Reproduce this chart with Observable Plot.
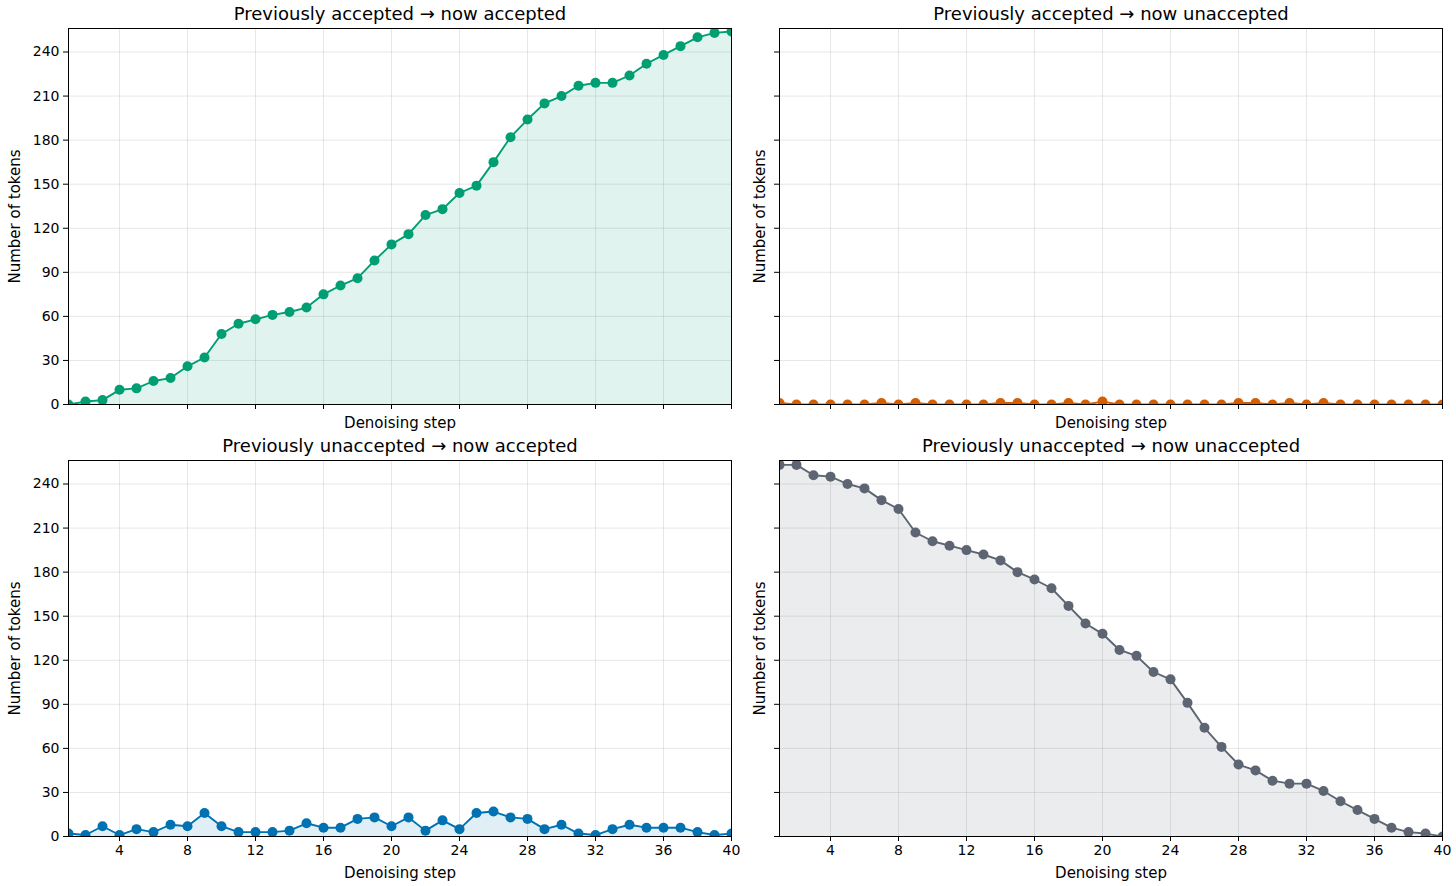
<!DOCTYPE html>
<html>
<head>
<meta charset="utf-8">
<script src="https://cdn.jsdelivr.net/npm/d3@7"></script>
<script src="https://cdn.jsdelivr.net/npm/@observablehq/plot@0.6"></script>
<style>
  html, body { margin: 0; padding: 0; background: #fff; }
  #wrap { position: relative; width: 1456px; height: 886px; font-family: "DejaVu Sans", sans-serif; }
  #wrap > svg { position: absolute; }
</style>
</head>
<body>
<div id="wrap"></div>
<script>
const steps = d3.range(1, 41);
const accAcc = [0,2,3,10,11,16,18,26,32,48,55,58,61,63,66,75,81,86,98,109,116,129,133,144,149,165,182,194,205,210,217,219,219,224,232,238,244,250,253,254];
const accUnacc = [1,0,0,0,0,0,1,0,1,0,0,0,0,1,1,0,0,1,0,2,0,0,0,0,0,0,0,1,1,0,1,0,1,0,0,0,0,0,0,0];
const unaccAcc = [2,1,7,1,5,3,8,7,16,7,3,3,3,4,9,6,6,12,13,7,13,4,11,5,16,17,13,12,5,8,2,1,5,8,6,6,6,3,1,2];
const unaccUnacc = [253,253,246,245,240,237,229,223,207,201,198,195,192,188,180,175,169,157,145,138,127,123,112,107,91,74,61,49,45,38,36,36,31,24,18,12,6,3,2,0];

const titles = ["Previously accepted \u2192 now accepted", "Previously accepted \u2192 now unaccepted",
                "Previously unaccepted \u2192 now accepted", "Previously unaccepted \u2192 now unaccepted"];
const colors = ["#009E73", "#D55E00", "#0072B2", "#5d6472"];
const xTicks = [4, 8, 12, 16, 20, 24, 28, 32, 36, 40];
const yTicks = [0, 30, 60, 90, 120, 150, 180, 210, 240];
const series = [accAcc, accUnacc, unaccAcc, unaccUnacc];

const wrap = document.getElementById("wrap");
const panels = [
  {left: 0, top: 0, row: 0, col: 0},
  {left: 711, top: 0, row: 0, col: 1},
  {left: 0, top: 432, row: 1, col: 0},
  {left: 711, top: 432, row: 1, col: 1}
];

panels.forEach((p, i) => {
  const data = steps.map((s, j) => ({step: s, n: series[i][j]}));
  const showX = p.row === 1;
  const showY = p.col === 0;
  const chart = Plot.plot({
    width: 740,
    height: 454,
    marginLeft: 68,
    marginRight: 9,
    marginTop: 28,
    marginBottom: 50,
    style: {fontFamily: "DejaVu Sans, sans-serif", fontSize: "14px", color: "#000", background: "transparent", overflow: "visible"},
    x: {domain: [1, 40]},
    y: {domain: [0, 256]},
    marks: [
      Plot.gridX(xTicks, {stroke: "#b0b0b0", strokeOpacity: 0.3, strokeWidth: 1}),
      Plot.gridY(yTicks, {stroke: "#b0b0b0", strokeOpacity: 0.3, strokeWidth: 1}),
      Plot.areaY(data, {x: "step", y: "n", fill: colors[i], fillOpacity: 0.12, clip: true}),
      Plot.lineY(data, {x: "step", y: "n", stroke: colors[i], strokeWidth: 1.9, clip: true}),
      Plot.dot(data, {x: "step", y: "n", fill: colors[i], r: 5, clip: true}),
      Plot.axisX(xTicks, {
        tickSize: 5, tickPadding: 4, stroke: "#000", fontSize: 14,
        tickFormat: showX ? (d => String(d)) : (() => ""),
        label: null
      }),
      Plot.axisX({
        ticks: [], tickSize: 0, label: "Denoising step", labelAnchor: "center", labelArrow: "none",
        fontSize: 15, labelOffset: showX ? 41 : 23
      }),
      Plot.axisY(yTicks, {
        tickSize: 5, tickPadding: 4, stroke: "#000", fontSize: 14,
        tickFormat: showY ? (d => String(d)) : (() => ""),
        label: null
      }),
      Plot.axisY({
        ticks: [], tickSize: 0, label: "Number of tokens", labelAnchor: "center", labelArrow: "none",
        fontSize: 15, labelOffset: showY ? 59 : 25
      }),
      Plot.frame({stroke: "#000", strokeWidth: 1}),
      Plot.text([titles[i]], {frameAnchor: "top", dy: -14, fontSize: 18, fill: "#000", lineAnchor: "middle"})
    ]
  });
  chart.style.left = p.left + "px";
  chart.style.top = p.top + "px";
  wrap.appendChild(chart);
});
</script>
</body>
</html>
